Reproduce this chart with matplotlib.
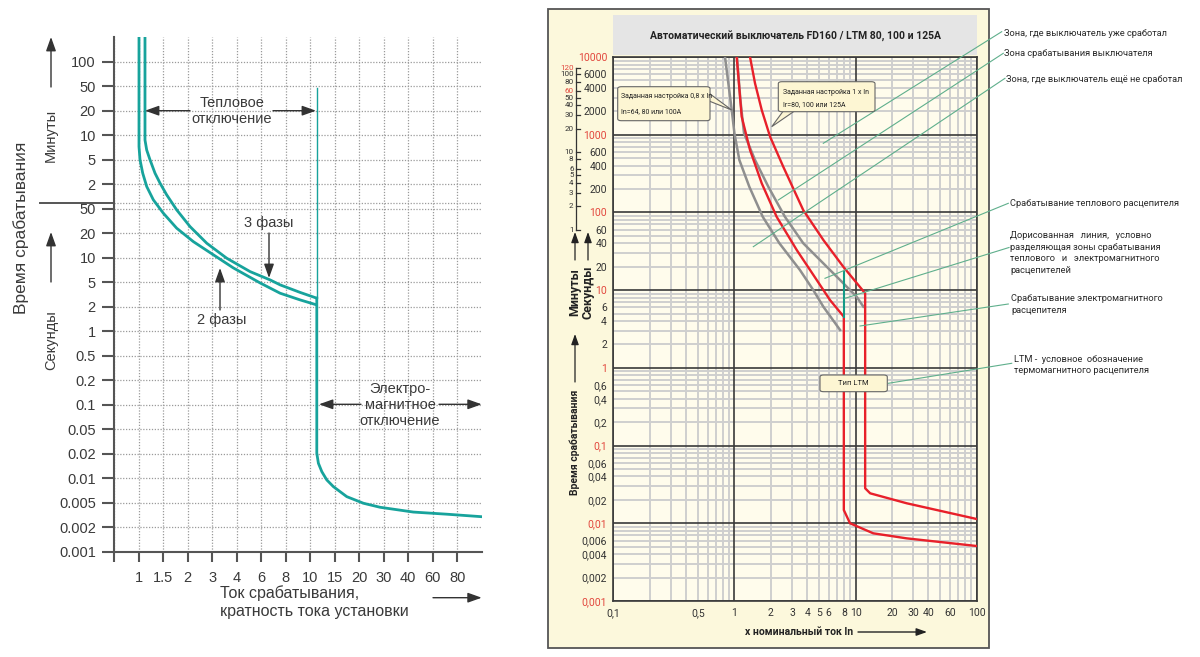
import numpy as np
import matplotlib
matplotlib.use("Agg")
import matplotlib.pyplot as plt
from matplotlib.patches import Rectangle, FancyBboxPatch, Polygon, FancyArrowPatch
from matplotlib.lines import Line2D
from matplotlib.transforms import blended_transform_factory as blend
from matplotlib.ticker import FixedLocator, FixedFormatter, NullLocator

# ====================== DATA: left chart ======================
L_X_TICKS = [1, 1.5, 2, 3, 4, 6, 8, 10, 15, 20, 30, 40, 60, 80]
L_X_TICKLABELS = ["1", "1.5", "2", "3", "4", "6", "8", "10", "15", "20", "30", "40", "60", "80"]
L_X_LIMITS = [0.667, 100]
L_Y_SEC_TICKS = [0.001, 0.002, 0.005, 0.01, 0.02, 0.05, 0.1, 0.2, 0.5, 1, 2, 5, 10, 20, 50]
L_Y_SEC_LABELS = ["0.001", "0.002", "0.005", "0.01", "0.02", "0.05", "0.1", "0.2", "0.5",
                  "1", "2", "5", "10", "20", "50"]
L_Y_MIN_TICKS = [2, 5, 10, 20, 50, 100]          # minutes
L_Y_TOP_MIN = 200                                # minutes (top of axis)
L_SPLIT_SEC = 60                                 # seconds / minutes divider

# thermal curves (multiple of setting current, seconds)
PH3_I = [1.113, 1.113, 1.145, 1.209, 1.314, 1.428, 1.566, 1.761, 2.084, 2.75, 3.56, 5.0,
         6.67, 7.50, 9.13, 11.17]
PH3_T = [12000, 522, 393, 298, 180, 124, 81.6, 47.6, 25.5, 15.0, 9.84, 6.73,
         5.32, 4.51, 3.40, 2.74]
PH2_I = [1.008, 1.008, 1.025, 1.072, 1.145, 1.278, 1.505, 1.761, 2.202, 3.05, 3.85, 5.90,
         7.50, 9.13, 11.17]
PH2_T = [12000, 433, 298, 180, 110, 68.3, 42.1, 24.0, 15.7, 10.8, 7.47, 4.85,
         3.30, 2.57, 2.13]
# electromagnetic part
EM_I = [11.17, 11.17, 11.47, 12.14, 13.18, 14.71, 17.3, 21.5, 28.3, 43.6, 70.9, 100]
EM_T = [2.74, 0.0203, 0.01524, 0.01202, 0.00951, 0.00786, 0.00593, 0.00489, 0.00421,
        0.00352, 0.00325, 0.00296]
BOUND_I = [11.17, 11.17]
BOUND_T = [2789, 2.74]

# ====================== DATA: right chart ======================
R_X_LIM = [0.1, 100]
R_Y_LIM = [0.001, 10000]
R_X_LABELED = [0.1, 0.5, 1, 2, 3, 4, 5, 6, 8, 10, 20, 30, 40, 60, 100]
R_X_LABELS = ["0,1", "0,5", "1", "2", "3", "4", "5", "6", "8", "10", "20", "30", "40", "60", "100"]
R_Y_LABELED = [10000, 6000, 4000, 2000, 1000, 600, 400, 200, 100, 60, 40, 20, 10, 6, 4, 2, 1,
               0.6, 0.4, 0.2, 0.1, 0.06, 0.04, 0.02, 0.01, 0.006, 0.004, 0.002, 0.001]
R_Y_LABELS = ["10000", "6000", "4000", "2000", "1000", "600", "400", "200", "100", "60", "40",
              "20", "10", "6", "4", "2", "1", "0,6", "0,4", "0,2", "0,1", "0,06", "0,04", "0,02",
              "0,01", "0,006", "0,004", "0,002", "0,001"]
R_DECADES_X = [0.1, 1, 10, 100]
R_DECADES_Y = [0.001, 0.01, 0.1, 1, 10, 100, 1000, 10000]
R_SUBS = [2, 3, 4, 5, 6, 7, 8, 9]
R_MINUTES = [120, 100, 80, 60, 50, 40, 30, 20, 10, 8, 6, 5, 4, 3, 2, 1]
R_MIN_RED = [120, 60]

GRAY_LO_I = [0.836, 0.950, 1.0, 1.098, 1.327, 1.712, 2.35, 3.47, 4.48, 5.42, 7.45]
GRAY_LO_T = [10000, 2080, 1042, 473, 214, 88, 40.1, 18.2, 10.0, 6.12, 3.07]
GRAY_HI_I = [1.05, 1.12, 1.20, 1.479, 1.905, 2.61, 3.70, 5.78, 7.45, 10.2, 11.6]
GRAY_HI_T = [10000, 2800, 1042, 473, 214, 88, 40.1, 20.0, 13.5, 8.24, 6.12]
RED_LO_I = [1.044, 1.148, 1.345, 1.68, 2.23, 3.27, 4.78, 6.15, 8.0, 8.0, 9.0, 14.0, 26.4, 100]
RED_LO_T = [10000, 1706, 635, 237, 88, 32.8, 13.5, 7.46, 4.55, 0.0148, 0.0100, 0.00743, 0.0064, 0.0051]
RED_HI_I = [1.345, 1.479, 1.68, 1.97, 2.53, 3.70, 5.42, 7.92, 12.0, 12.0, 13.2, 26.4, 100]
RED_HI_T = [10000, 4590, 2080, 942, 387, 107, 44.2, 20.0, 9.1, 0.0282, 0.0243, 0.0181, 0.01135]
DIV_I = [8.0, 8.0]
DIV_T = [17.3, 4.55]

# ====================== helpers ======================
W, H = 1200, 657
fig = plt.figure(figsize=(12, 6.57), dpi=100)
fig.patch.set_facecolor("white")


def F(px, py):
    return (px / W, 1 - py / H)


def ftext(px, py, s, **kw):
    x, y = F(px, py)
    return fig.text(x, y, s, **kw)


def farrow(x0, y0, x1, y1, color="#333333", lw=1.0, hl=0.7, hw=0.25, ms=12, z=6):
    a = FancyArrowPatch(F(x0, y0), F(x1, y1), transform=fig.transFigure,
                        arrowstyle=f"-|>,head_length={hl},head_width={hw}",
                        mutation_scale=ms, color=color, lw=lw, shrinkA=0, shrinkB=0,
                        zorder=z)
    fig.add_artist(a)


def fline(xs, ys, **kw):
    p = [F(x, y) for x, y in zip(xs, ys)]
    ln = Line2D([q[0] for q in p], [q[1] for q in p], transform=fig.transFigure, **kw)
    fig.add_artist(ln)


def log_index_scale(nodes):
    lv = np.log10(np.asarray(nodes, float))
    pos = np.arange(len(nodes), dtype=float)

    def fwd(v):
        v = np.asarray(v, float)
        lg = np.log10(np.clip(v, 1e-12, None))
        out = np.interp(lg, lv, pos)
        out = np.where(lg < lv[0], pos[0] + (lg - lv[0]) / (lv[1] - lv[0]), out)
        out = np.where(lg > lv[-1], pos[-1] + (lg - lv[-1]) / (lv[-1] - lv[-2]), out)
        return out

    def inv(p):
        p = np.asarray(p, float)
        lg = np.interp(p, pos, lv)
        lg = np.where(p < pos[0], lv[0] + (p - pos[0]) * (lv[1] - lv[0]), lg)
        lg = np.where(p > pos[-1], lv[-1] + (p - pos[-1]) * (lv[-1] - lv[-2]), lg)
        return 10 ** lg

    return fwd, inv


# ====================== LEFT CHART ======================
LF = ["Liberation Sans", "DejaVu Sans"]
TXT = "#3a3a3a"
TEAL = "#17a39c"

axl = fig.add_axes([114 / W, 1 - 551.7 / H, 367.7 / W, 514.7 / H])
x_nodes = [L_X_LIMITS[0]] + L_X_TICKS + [L_X_LIMITS[1]]
y_nodes = L_Y_SEC_TICKS + [m * 60 for m in L_Y_MIN_TICKS] + [L_Y_TOP_MIN * 60]
axl.set_xscale("function", functions=log_index_scale(x_nodes))
axl.set_yscale("function", functions=log_index_scale(y_nodes))
axl.set_xlim(L_X_LIMITS[0], L_X_LIMITS[1])
axl.set_ylim(L_Y_SEC_TICKS[0], L_Y_TOP_MIN * 60)

axl.xaxis.set_major_locator(FixedLocator([L_X_LIMITS[0]] + L_X_TICKS))
axl.xaxis.set_major_formatter(FixedFormatter([""] + L_X_TICKLABELS))
axl.xaxis.set_minor_locator(NullLocator())
y_ticks = L_Y_SEC_TICKS + [m * 60 for m in L_Y_MIN_TICKS]
y_labels = L_Y_SEC_LABELS + [str(m) for m in L_Y_MIN_TICKS]
axl.yaxis.set_major_locator(FixedLocator(y_ticks))
axl.yaxis.set_major_formatter(FixedFormatter(y_labels))
axl.yaxis.set_minor_locator(NullLocator())

for s in ["top", "right"]:
    axl.spines[s].set_visible(False)
for s in ["left", "bottom"]:
    axl.spines[s].set_color("#555555")
    axl.spines[s].set_linewidth(1.5)
axl.tick_params(axis="y", length=8.6, width=1.5, color="#555555", pad=4.5,
                labelsize=10.5, labelcolor=TXT)
axl.tick_params(axis="x", length=7.4, width=1.5, color="#555555", pad=6.5,
                labelsize=10.5, labelcolor=TXT)
for lab in axl.get_xticklabels() + axl.get_yticklabels():
    lab.set_family(LF)

axl.grid(True, which="major", linestyle=(0, (1, 1.3)), color="#9a9a9a", lw=0.9)
axl.axhline(L_SPLIT_SEC, linestyle=(0, (1, 1.3)), color="#9a9a9a", lw=0.9)
axl.set_axisbelow(True)

axl.plot(PH3_I, PH3_T, color=TEAL, lw=2.0, solid_capstyle="butt", solid_joinstyle="round", zorder=3)
axl.plot(PH2_I, PH2_T, color=TEAL, lw=2.0, solid_capstyle="butt", solid_joinstyle="round", zorder=3)
axl.plot(EM_I, EM_T, color=TEAL, lw=2.0, solid_joinstyle="round", zorder=3)
axl.plot(BOUND_I, BOUND_T, color=TEAL, lw=1.0, zorder=3)

# divider between minutes and seconds
trl = blend(fig.transFigure, axl.transData)
axl.add_line(Line2D([40 / W, 114 / W], [L_SPLIT_SEC, L_SPLIT_SEC], transform=trl,
                    color="#555555", lw=1.4, clip_on=False))

# axis titles (left)
ftext(21, 228, "Время срабатывания", rotation=90, ha="center", va="center",
      fontsize=12.5, color=TXT, family=LF)
ftext(51, 135, "Минуты", rotation=90, ha="center", va="center", fontsize=10.5,
      color=TXT, family=LF)
ftext(51, 340, "Секунды", rotation=90, ha="center", va="center", fontsize=10.5,
      color=TXT, family=LF)
farrow(51, 87, 51, 37)
farrow(51, 282, 51, 232)

ftext(220, 602, "Ток срабатывания,\nкратность тока установки", ha="left", va="center",
      fontsize=11.5, color=TXT, family=LF, linespacing=1.25)
farrow(433, 597.7, 481.7, 597.7)

# annotations
ftext(232, 111, "Тепловое\nотключение", ha="center", va="center", fontsize=10.5,
      color=TXT, family=LF, linespacing=1.1)
farrow(190, 110.7, 145, 110.7)
farrow(273, 110.7, 316, 110.7)

ftext(400, 405, "Электро-\nмагнитное\nотключение", ha="center", va="center",
      fontsize=10.5, color=TXT, family=LF, linespacing=1.15)
farrow(361, 404.3, 319, 404.3)
farrow(439, 404.3, 481.7, 404.3)

ftext(269, 223, "3 фазы", ha="center", va="center", fontsize=10.5, color=TXT, family=LF)
farrow(269, 233, 269, 278)
ftext(222, 320, "2 фазы", ha="center", va="center", fontsize=10.5, color=TXT, family=LF)
farrow(220, 310, 220, 268)

# ====================== RIGHT CHART ======================
RF = ["Roboto", "DejaVu Sans"]
RED = "#e8202a"
REDT = "#e2473d"
DARK = "#333333"
CREAM = "#fcf8dc"

# outer frame and title band
fig.add_artist(Rectangle(F(548, 648), 441 / W, 639 / H, transform=fig.transFigure,
                         facecolor=CREAM, edgecolor="#555555", lw=1.3, zorder=-2))
fig.add_artist(Rectangle(F(613.3, 55), 363.4 / W, 40 / H, transform=fig.transFigure,
                         facecolor="#e5e5e5", edgecolor="none", zorder=-1))
ftext(795, 36, "Автоматический выключатель FD160 / LTM 80, 100 и 125A", ha="center",
      va="center", fontsize=7.5, fontweight="bold", color="#222222", family=RF)

axr = fig.add_axes([613.3 / W, 1 - 601 / H, 363.4 / W, 544 / H])
axr.set_facecolor("#fffcec")
axr.set_xscale("log")
axr.set_yscale("log")
axr.set_xlim(*R_X_LIM)
axr.set_ylim(*R_Y_LIM)

# grid
for d in R_DECADES_X[:-1]:
    for s in R_SUBS:
        axr.axvline(d * s, color="#cfcfcf", lw=1.4, zorder=1)
for d in R_DECADES_Y[:-1]:
    for s in R_SUBS:
        axr.axhline(d * s, color="#cfcfcf", lw=1.4, zorder=1)
for d in R_DECADES_X:
    axr.axvline(d, color="#3a3a3a", lw=1.2, zorder=2)
for d in R_DECADES_Y:
    axr.axhline(d, color="#3a3a3a", lw=1.2, zorder=2)
for s in axr.spines.values():
    s.set_color("#3a3a3a")
    s.set_linewidth(1.2)

axr.xaxis.set_major_locator(FixedLocator(R_X_LABELED))
axr.xaxis.set_major_formatter(FixedFormatter(R_X_LABELS))
axr.xaxis.set_minor_locator(NullLocator())
axr.yaxis.set_major_locator(FixedLocator(R_Y_LABELED))
axr.yaxis.set_major_formatter(FixedFormatter(R_Y_LABELS))
axr.yaxis.set_minor_locator(NullLocator())
axr.tick_params(axis="both", length=0, labelsize=7.5, labelcolor=DARK)
axr.tick_params(axis="y", pad=4.5)
axr.tick_params(axis="x", pad=5)
for lab, v in zip(axr.get_yticklabels(), R_Y_LABELED):
    lab.set_family(RF)
    if v in R_DECADES_Y:
        lab.set_color(REDT)
for lab in axr.get_xticklabels():
    lab.set_family(RF)

# curves
axr.plot(GRAY_LO_I, GRAY_LO_T, color="#8f8f8f", lw=1.8, zorder=4)
axr.plot(GRAY_HI_I, GRAY_HI_T, color="#8f8f8f", lw=1.8, zorder=4)
axr.plot(RED_LO_I, RED_LO_T, color=RED, lw=1.7, zorder=5, solid_joinstyle="round")
axr.plot(RED_HI_I, RED_HI_T, color=RED, lw=1.7, zorder=5, solid_joinstyle="round")
axr.plot(DIV_I, DIV_T, color="#139a86", lw=1.5, zorder=6)

# minutes scale
trr = blend(axr.transAxes, axr.transData)
mx = (576 - 613.3) / 363.4
axr.add_line(Line2D([mx, mx], [60 * min(R_MINUTES), 60 * max(R_MINUTES)], transform=trr,
                    color=DARK, lw=0.9, clip_on=False))
for m in R_MINUTES:
    axr.add_line(Line2D([mx, mx + 4 / 363.4], [60 * m, 60 * m], transform=trr, color=DARK,
                        lw=0.9, clip_on=False))
    axr.text(mx - 2.5 / 363.4, 60 * m, str(m), transform=trr, ha="right", va="center",
             fontsize=5.8, color=REDT if m in R_MIN_RED else DARK, family=RF)

# axis titles (right)
ftext(575, 292, "Минуты", rotation=90, ha="center", va="center", fontsize=9,
      fontweight="bold", color="#222222", family=RF)
ftext(588, 292, "Секунды", rotation=90, ha="center", va="center", fontsize=9,
      fontweight="bold", color="#222222", family=RF)
farrow(575, 260, 575, 232, color="#222222", lw=0.9, ms=9)
farrow(588, 260, 588, 232, color="#222222", lw=0.9, ms=9)
ftext(575, 442, "Время срабатывания", rotation=90, ha="center", va="center", fontsize=7.5,
      fontweight="bold", color="#222222", family=RF)
farrow(575, 382, 575, 334, color="#222222", lw=0.9, ms=9)
ftext(745, 632, "х номинальный ток In", ha="left", va="center", fontsize=7.5,
      fontweight="bold", color="#222222", family=RF)
farrow(858, 632, 927, 632, color="#222222", lw=1.0, ms=9)

# callout boxes
BOXF = "#fdf6d3"


def callout(x0, y0, x1, y1, tail, lines, fs=5, center=False):
    fig.add_artist(Polygon([F(*p) for p in tail], closed=True, transform=fig.transFigure,
                           facecolor=BOXF, edgecolor="#666666", lw=0.8, zorder=7))
    bx, by = F(x0, y1)
    fig.add_artist(FancyBboxPatch((bx, by), (x1 - x0) / W, (y1 - y0) / H,
                                  boxstyle="round,pad=0,rounding_size=0.003",
                                  transform=fig.transFigure, facecolor=BOXF,
                                  edgecolor="#666666", lw=0.8, zorder=8))
    for (tx, ty, s) in lines:
        ftext(tx, ty, s, ha="center" if center else "left", va="center", fontsize=fs,
              color="#222222", family=RF, zorder=9)


callout(617.7, 86.7, 710, 120.7, [(702, 88), (731.7, 110), (709, 101)],
        [(621, 97, "Заданная настройка 0,8 x In"), (621, 112, "In=64, 80 или 100A")])
callout(778.3, 81.7, 875, 111.7, [(784, 110), (771.7, 126.7), (796, 110)],
        [(783, 92, "Заданная настройка 1 x In"), (783, 105, "Ir=80, 100 или 125A")])
callout(820, 375, 887.3, 391.7, [(850, 383), (851, 383), (850.5, 384)],
        [(853.7, 383.3, "Тип LTM")], fs=5.5, center=True)

# side notes with leader lines
GL = "#5faf8c"
notes = [
    ((823.3, 143.3), (1001.7, 31.7), (1003.5, 33.5), "Зона, где выключатель уже сработал"),
    ((778.3, 200.0), (1003.3, 53.3), (1004.5, 53.7), "Зона срабатывания выключателя"),
    ((753.3, 246.7), (1005.0, 78.3), (1006.0, 80.0), "Зона, где выключатель ещё не сработал"),
    ((825.0, 278.3), (1008.3, 203.3), (1009.5, 203.3), "Срабатывание теплового расцепителя"),
    ((845.0, 298.3), (1009.0, 247.5), (1010.0, 253.0),
     "Дорисованная   линия,   условно\nразделяющая зоны срабатывания\n"
     "теплового   и   электромагнитного\nрасцепителей"),
    ((860.0, 326.0), (1008.3, 304.0), (1011.0, 304.5),
     "Срабатывание электромагнитного\nрасцепителя"),
    ((888.3, 383.3), (1011.7, 363.3), (1013.5, 365.0),
     "LTM -  условное  обозначение\nтермомагнитного расцепителя"),
]
for (a, b, t, s) in notes:
    fline([a[0], b[0]], [a[1], b[1]], color=GL, lw=0.8, zorder=6)
    ftext(t[0], t[1], s, ha="left", va="center", fontsize=6.7, color="#2a2a2a",
          family=RF, linespacing=1.35, zorder=9)

fig.savefig("out.png", dpi=100)
